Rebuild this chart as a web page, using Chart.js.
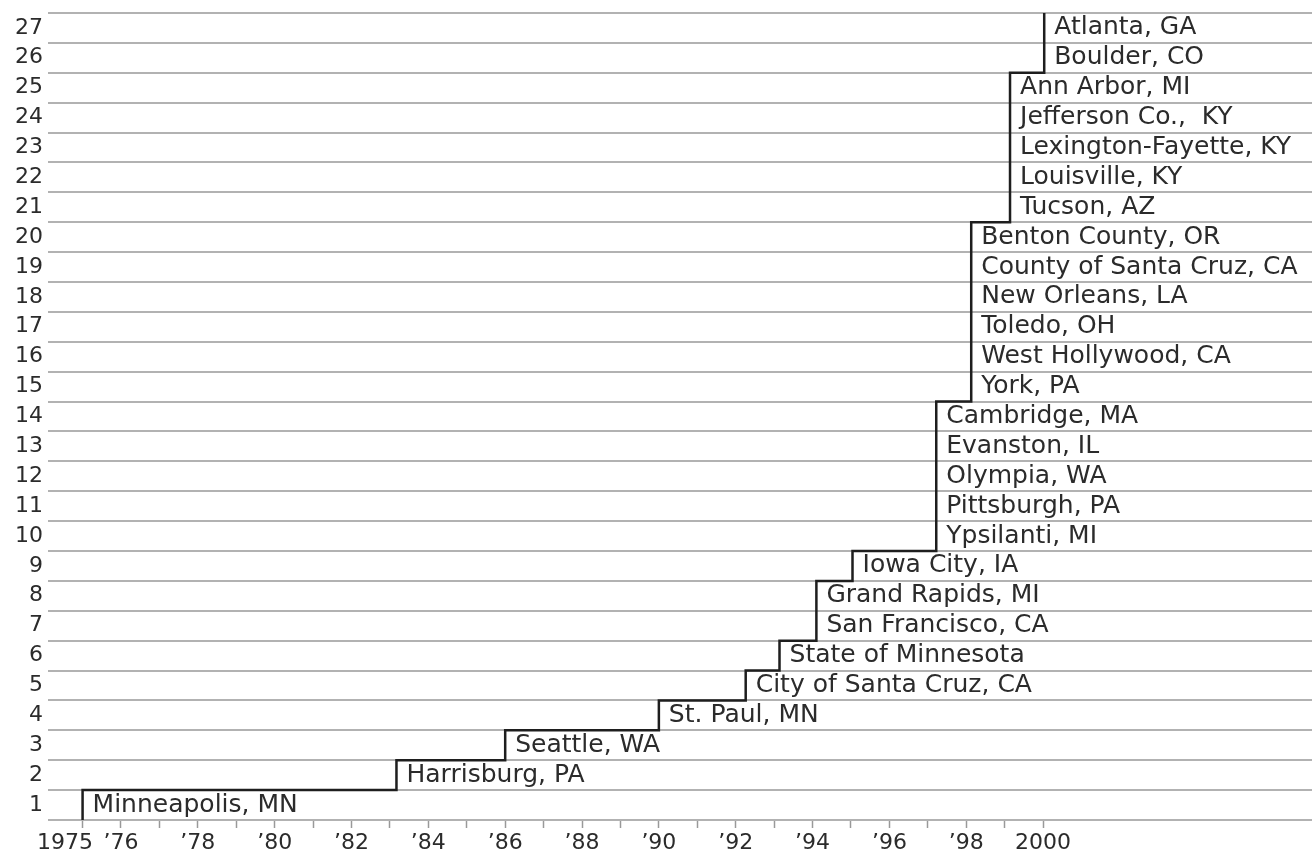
<!DOCTYPE html>
<html lang="en">
<head>
  <meta charset="UTF-8" />
  <title>Adoption by city, 1975-2000</title>
  <script src="https://cdn.jsdelivr.net/npm/chart.js"></script>
  <style>
    body { margin: 0; background: #fff; }
    .chart-container { position: relative; width: 1314px; height: 857px; }
  </style>
</head>
<body>
  <div class="chart-container">
    <canvas id="stepChart"></canvas>
  </div>

  <script>
    // Cities in order of adoption (row 1 = first)
    const cities = [
      'Minneapolis, MN', 'Harrisburg, PA', 'Seattle, WA', 'St. Paul, MN',
      'City of Santa Cruz, CA', 'State of Minnesota', 'San Francisco, CA',
      'Grand Rapids, MI', 'Iowa City, IA', 'Ypsilanti, MI', 'Pittsburgh, PA',
      'Olympia, WA', 'Evanston, IL', 'Cambridge, MA', 'York, PA',
      'West Hollywood, CA', 'Toledo, OH', 'New Orleans, LA',
      'County of Santa Cruz, CA', 'Benton County, OR', 'Tucson, AZ',
      'Louisville, KY', 'Lexington-Fayette, KY', 'Jefferson Co.,  KY',
      'Ann Arbor, MI', 'Boulder, CO', 'Atlanta, GA'
    ];

    const adoptYears = [
      1975.0, 1983.17, 1986.0, 1990.0,
      1992.26, 1993.14, 1994.1,
      1994.1, 1995.04, 1997.22, 1997.22,
      1997.22, 1997.22, 1997.22, 1998.13,
      1998.13, 1998.13, 1998.13,
      1998.13, 1998.13, 1999.14,
      1999.14, 1999.14, 1999.14,
      1999.14, 2000.03, 2000.03
    ];

    // x-axis: labelled years and the last year with a tick mark
    const labelYears = [1975, 1976, 1978, 1980, 1982, 1984, 1986, 1988, 1990, 1992, 1994, 1996, 1998, 2000];
    const lastTickYear = 2000;
    const xMin = 1974.1;
    const xMax = 2007;

    const stepPoints = [{ x: adoptYears[0], y: 0 }]
      .concat(adoptYears.map((yr, i) => ({ x: yr, y: i + 1 })));

    const textColor = '#2b2b2b';
    const gridColor = '#b2b2b2';

    // writes each city name inside its row, just right of its step
    const cityLabels = {
      id: 'cityLabels',
      afterDatasetsDraw(chart) {
        const { ctx, scales } = chart;
        ctx.save();
        ctx.font = '25px "DejaVu Sans"';
        ctx.fillStyle = textColor;
        ctx.textAlign = 'left';
        ctx.textBaseline = 'middle';
        cities.forEach((name, i) => {
          const px = scales.x.getPixelForValue(adoptYears[i]) + 10;
          const py = scales.y.getPixelForValue(i + 0.5);
          ctx.fillText(name, px, py);
        });
        ctx.restore();
      }
    };

    const ctx = document.getElementById('stepChart').getContext('2d');

    new Chart(ctx, {
      type: 'line',
      data: {
        datasets: [{
          data: stepPoints,
          stepped: 'before',
          borderColor: '#1e1e1e',
          borderWidth: 2.5,
          pointRadius: 0,
          fill: false
        }]
      },
      options: {
        responsive: true,
        maintainAspectRatio: false,
        animation: false,
        layout: { padding: 0 },
        plugins: {
          legend: { display: false },
          tooltip: { enabled: false }
        },
        scales: {
          x: {
            type: 'linear',
            min: xMin,
            max: xMax,
            border: { display: false },
            grid: {
              drawOnChartArea: false,
              drawTicks: true,
              tickLength: 8,
              tickWidth: 1.5,
              tickColor: (c) => (c.tick && c.tick.value <= lastTickYear) ? '#999' : 'rgba(0,0,0,0)'
            },
            ticks: {
              stepSize: 1,
              includeBounds: false,
              autoSkip: false,
              maxRotation: 0,
              padding: 2,
              color: textColor,
              font: { family: 'DejaVu Sans', size: 22 },
              callback: (v) => {
                if (!labelYears.includes(v)) return '';
                if (v === 1975) return '1975     ';
                if (v === 2000) return '2000';
                return '\u2019' + String(v).slice(2);
              }
            },
            afterFit: (scale) => { scale.height = 37; }
          },
          y: {
            type: 'linear',
            min: 0,
            max: cities.length,
            border: { display: false },
            grid: {
              color: gridColor,
              lineWidth: 2,
              drawTicks: false
            },
            ticks: {
              stepSize: 1,
              padding: 5,
              labelOffset: -15,
              color: textColor,
              font: { family: 'DejaVu Sans', size: 22 },
              callback: (v) => (v < cities.length ? String(v + 1) : '')
            },
            afterFit: (scale) => {
              scale.width = 48;
              scale.paddingTop = 13;
              scale.paddingBottom = 0;
            }
          }
        }
      },
      plugins: [cityLabels]
    });
  </script>
</body>
</html>
